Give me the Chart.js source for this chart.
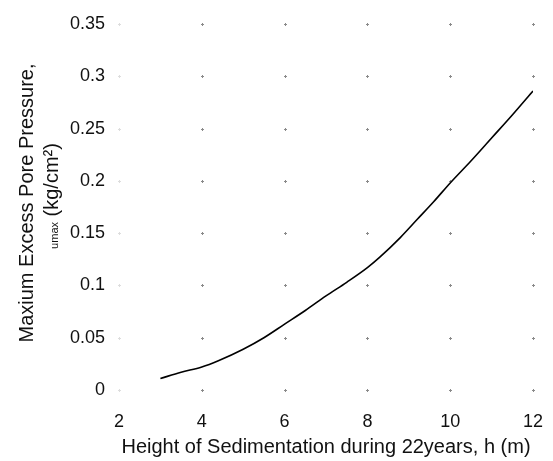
<!DOCTYPE html>
<html>
<head>
<meta charset="utf-8">
<script src="https://cdn.jsdelivr.net/npm/chart.js@4"></script>
<style>
  html, body { margin: 0; padding: 0; background: #fff; }
  #wrap { width: 553px; height: 461px; position: relative; }
</style>
</head>
<body>
<div id="wrap"><canvas id="c" width="553" height="461"></canvas></div>
<script>
// Data
const heights = [3, 3.5, 4, 4.4, 5, 5.5, 6, 6.5, 7, 7.5, 8, 8.3, 8.8, 9.2, 9.6, 10, 10.5, 11, 11.5, 12];
const pressures = [0.011, 0.017, 0.022, 0.028, 0.039, 0.050, 0.063, 0.076, 0.090, 0.103, 0.117, 0.127, 0.146, 0.163, 0.180, 0.198, 0.219, 0.241, 0.263, 0.286];
const xTicks = [2, 4, 6, 8, 10, 12];
const yTicks = [0, 0.05, 0.1, 0.15, 0.2, 0.25, 0.3, 0.35];
const xTitle = 'Height of Sedimentation during 22years, h (m)';
const yTitleLine1 = 'Maxium Excess Pore Pressure,';
const yTitleSub = 'umax';
const yTitleUnit = ' (kg/cm\u00B2)';

const FONT = '"Liberation Sans", Arial, Helvetica, sans-serif';

const gridDots = {
  id: 'gridDots',
  beforeDatasetsDraw(chart) {
    const { ctx, scales: { x, y } } = chart;
    ctx.save();
    xTicks.forEach(xv => {
      yTicks.forEach(yv => {
        const px = Math.round(x.getPixelForValue(xv)) + 0.5;
        const py = Math.round(y.getPixelForValue(yv)) + 0.5;
        ctx.strokeStyle = xv === 2 ? '#dddddd' : '#8a8a8a';
        ctx.lineWidth = 1;
        ctx.beginPath();
        ctx.moveTo(px - 1.5, py); ctx.lineTo(px + 1.5, py);
        ctx.moveTo(px, py - 1.5); ctx.lineTo(px, py + 1.5);
        ctx.stroke();
      });
    });
    ctx.restore();
  }
};

const yTitlePlugin = {
  id: 'yTitlePlugin',
  afterDraw(chart) {
    const { ctx, chartArea } = chart;
    const cy = (chartArea.top + chartArea.bottom) / 2;
    const bigFont = '20px ' + FONT;
    const smallFont = '11px ' + FONT;
    ctx.save();
    ctx.fillStyle = '#111';
    ctx.textBaseline = 'alphabetic';
    ctx.save();
    ctx.translate(33, cy - 4);
    ctx.rotate(-Math.PI / 2);
    ctx.font = bigFont;
    ctx.textAlign = 'center';
    ctx.fillText(yTitleLine1, 0, 0);
    ctx.restore();
    ctx.save();
    ctx.translate(58, cy - 11);
    ctx.rotate(-Math.PI / 2);
    ctx.font = smallFont;
    const wSmall = ctx.measureText(yTitleSub).width;
    ctx.font = bigFont;
    const wBig = ctx.measureText(yTitleUnit).width;
    const sx = -(wSmall + wBig) / 2;
    ctx.textAlign = 'left';
    ctx.font = smallFont;
    ctx.fillText(yTitleSub, sx, 0);
    ctx.font = bigFont;
    ctx.fillText(yTitleUnit, sx + wSmall, 0);
    ctx.restore();
    ctx.restore();
  }
};

new Chart(document.getElementById('c'), {
  type: 'line',
  data: {
    datasets: [{
      data: heights.map((h, i) => ({ x: h, y: pressures[i] })),
      borderColor: '#000',
      borderWidth: 1.6,
      pointRadius: 0,
      cubicInterpolationMode: 'monotone',
      fill: false
    }]
  },
  options: {
    responsive: false,
    animation: false,
    layout: { padding: { left: 0, right: 20, top: 24, bottom: 0 } },
    plugins: { legend: { display: false }, tooltip: { enabled: false } },
    scales: {
      x: {
        type: 'linear',
        min: 2, max: 12,
        border: { display: false },
        grid: { display: false, drawTicks: false },
        afterBuildTicks(scale) { scale.ticks = xTicks.map(v => ({ value: v })); },
        afterFit(scale) { scale.height = 71; scale.paddingRight = 0; scale.paddingLeft = 0; },
        ticks: {
          padding: 21,
          color: '#111',
          maxRotation: 0,
          font: { family: FONT, size: 18 },
          callback: v => String(v)
        },
        title: {
          display: true,
          text: xTitle,
          color: '#111',
          font: { family: FONT, size: 20 },
          padding: { top: 0, bottom: 2 }
        }
      },
      y: {
        type: 'linear',
        min: 0, max: 0.35,
        border: { display: false },
        grid: { display: false, drawTicks: false },
        afterBuildTicks(scale) { scale.ticks = yTicks.map(v => ({ value: v })); },
        afterFit(scale) { scale.width = 119; scale.paddingTop = 0; scale.paddingBottom = 0; },
        ticks: {
          padding: 14,
          color: '#111',
          font: { family: FONT, size: 18 },
          callback: v => String(parseFloat(v.toFixed(2)))
        }
      }
    }
  },
  plugins: [gridDots, yTitlePlugin]
});
</script>
</body>
</html>
